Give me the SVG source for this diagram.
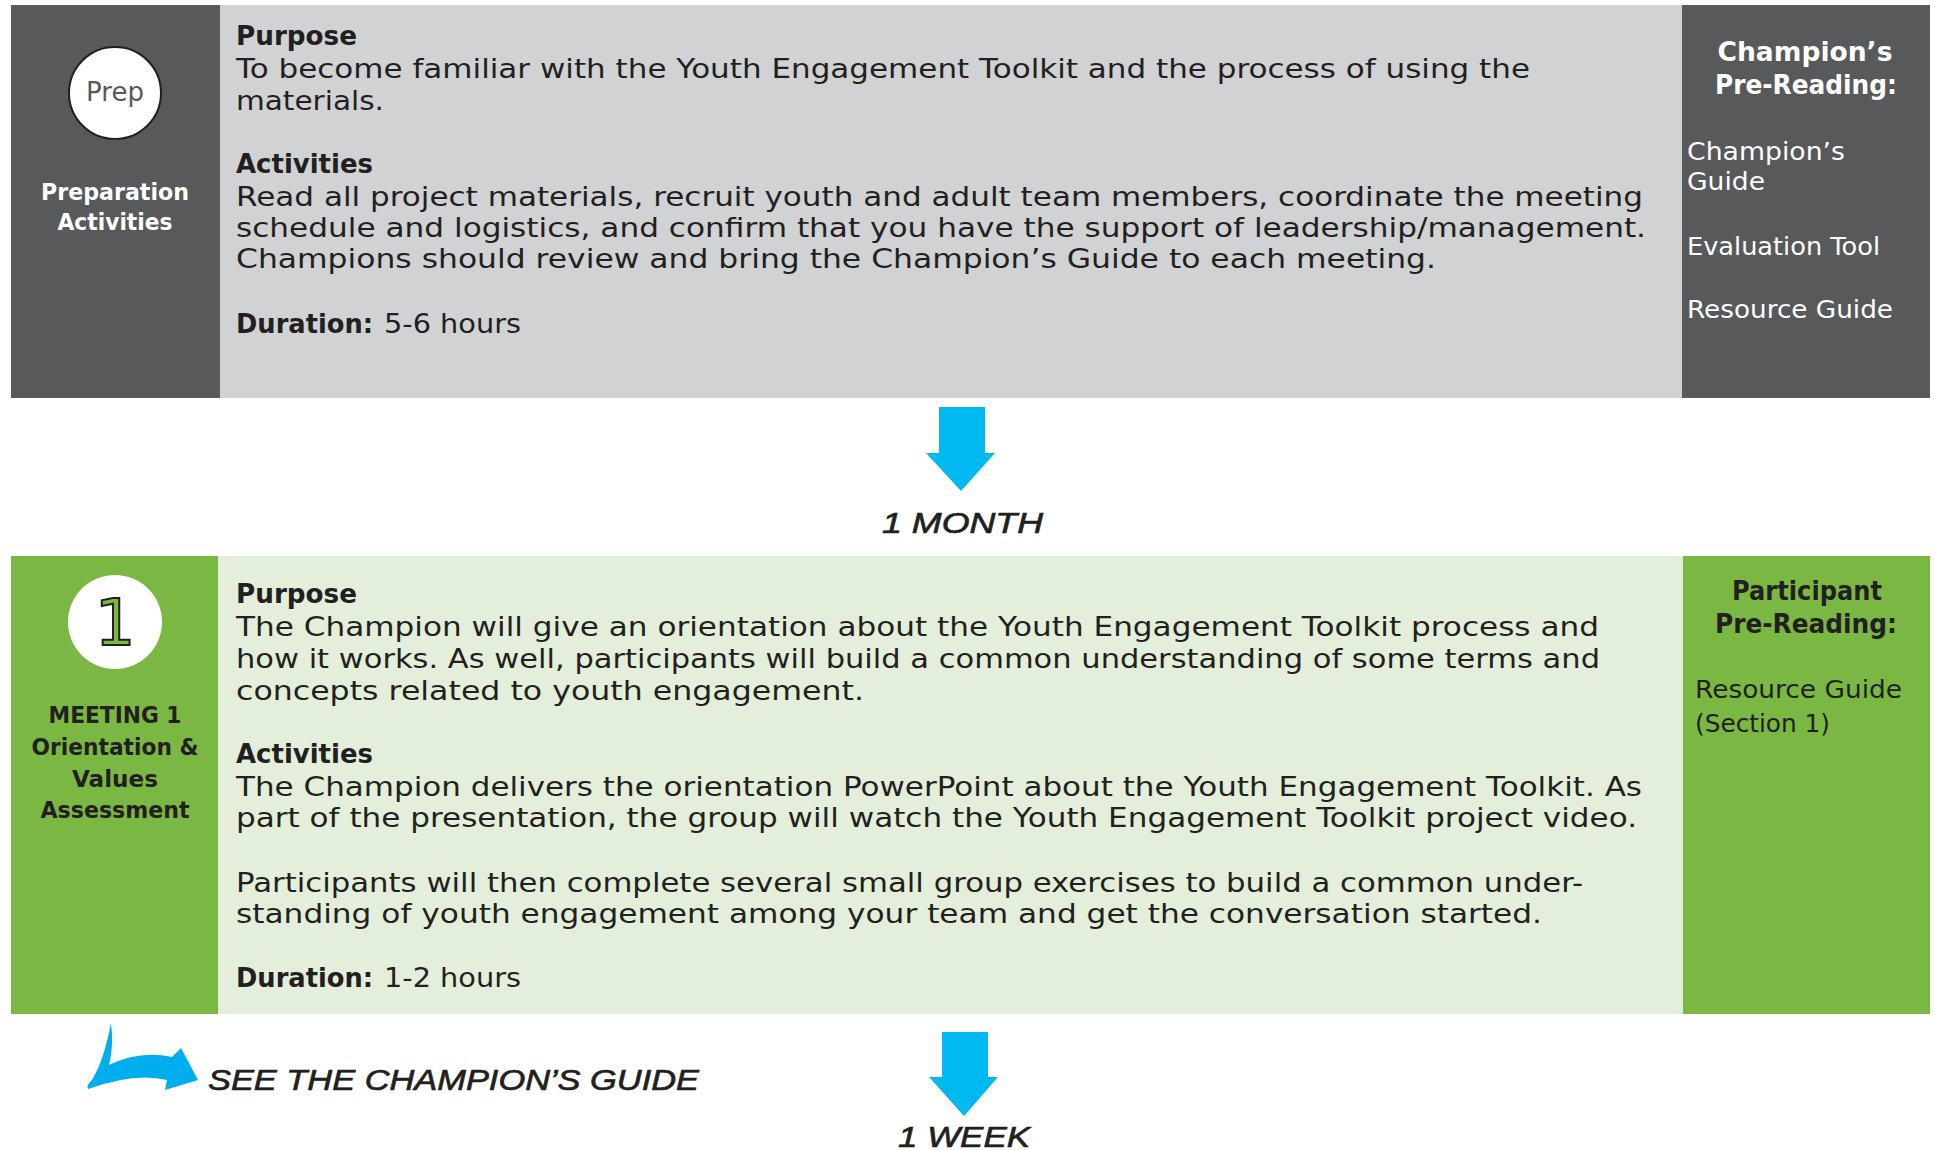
<svg xmlns="http://www.w3.org/2000/svg" width="1935" height="1150" viewBox="0 0 1935 1150">
<style>
.body{font-family:"DejaVu Sans","Liberation Sans",sans-serif;font-size:26px;fill:#231f20}
.head{font-family:"DejaVu Sans","Liberation Sans",sans-serif;font-size:26px;font-weight:bold;fill:#231f20}
.lbl{font-family:"DejaVu Sans","Liberation Sans",sans-serif;font-size:23px;font-weight:bold;text-anchor:middle}
.side{font-family:"DejaVu Sans","Liberation Sans",sans-serif;font-size:25px}
.sideh{font-family:"DejaVu Sans","Liberation Sans",sans-serif;font-size:26px;font-weight:bold;text-anchor:middle}
.hand{font-family:"Liberation Sans",sans-serif;font-style:italic;font-size:30px;fill:#231f20;stroke:#231f20;stroke-width:0.7}
.blue{fill:#00b9f1}
.white{fill:#ffffff}
.dark{fill:#231f20}
</style>
<rect width="1935" height="1150" fill="#ffffff"/>

<g id="prep">
<rect x="11" y="5" width="209" height="393" fill="#58595b"/>
<rect x="220" y="5" width="1462" height="393" fill="#d1d2d4"/>
<rect x="1682" y="5" width="248" height="393" fill="#58595b"/>
<circle cx="115" cy="93" r="46" fill="#ffffff" stroke="#231f20" stroke-width="2"/>
<text x="115" y="101" text-anchor="middle" font-family="DejaVu Sans, Liberation Sans, sans-serif" font-size="26" fill="#58595b">Prep</text>
<text class="lbl white" x="115" y="200" textLength="148" lengthAdjust="spacingAndGlyphs">Preparation</text>
<text class="lbl white" x="115" y="230" textLength="115" lengthAdjust="spacingAndGlyphs">Activities</text>
<text class="head" x="236" y="45" textLength="121" lengthAdjust="spacingAndGlyphs">Purpose</text>
<text class="body" x="236" y="78" textLength="1294" lengthAdjust="spacingAndGlyphs">To become familiar with the Youth Engagement Toolkit and the process of using the</text>
<text class="body" x="236" y="110" textLength="148" lengthAdjust="spacingAndGlyphs">materials.</text>
<text class="head" x="236" y="173" textLength="137" lengthAdjust="spacingAndGlyphs">Activities</text>
<text class="body" x="236" y="206" textLength="1407" lengthAdjust="spacingAndGlyphs">Read all project materials, recruit youth and adult team members, coordinate the meeting</text>
<text class="body" x="236" y="237" textLength="1410" lengthAdjust="spacingAndGlyphs">schedule and logistics, and confirm that you have the support of leadership/management.</text>
<text class="body" x="236" y="268" textLength="1200" lengthAdjust="spacingAndGlyphs">Champions should review and bring the Champion’s Guide to each meeting.</text>
<text class="head" x="236" y="333" textLength="137" lengthAdjust="spacingAndGlyphs">Duration:</text>
<text class="body" x="384" y="333" textLength="137" lengthAdjust="spacingAndGlyphs">5-6 hours</text>
<text class="sideh white" x="1805" y="61" textLength="175" lengthAdjust="spacingAndGlyphs">Champion’s</text>
<text class="sideh white" x="1806" y="94" textLength="182" lengthAdjust="spacingAndGlyphs">Pre-Reading:</text>
<text class="side white" x="1687" y="160" textLength="158" lengthAdjust="spacingAndGlyphs">Champion’s</text>
<text class="side white" x="1687" y="190" textLength="78" lengthAdjust="spacingAndGlyphs">Guide</text>
<text class="side white" x="1687" y="255" textLength="193" lengthAdjust="spacingAndGlyphs">Evaluation Tool</text>
<text class="side white" x="1687" y="318" textLength="206" lengthAdjust="spacingAndGlyphs">Resource Guide</text>
</g>

<g id="meeting1">
<rect x="11" y="556" width="207" height="458" fill="#7ab843"/>
<rect x="218" y="556" width="1465" height="458" fill="#e3efda"/>
<rect x="1683" y="556" width="247" height="458" fill="#7ab843"/>
<circle cx="115" cy="622" r="47" fill="#ffffff"/>
<text x="115" y="645" text-anchor="middle" font-family="DejaVu Sans, Liberation Sans, sans-serif" font-size="64" fill="#7ab843" stroke="#231f20" stroke-width="2">1</text>
<text class="lbl dark" x="115" y="723" textLength="133" lengthAdjust="spacingAndGlyphs">MEETING 1</text>
<text class="lbl dark" x="115" y="755" textLength="167" lengthAdjust="spacingAndGlyphs">Orientation &amp;</text>
<text class="lbl dark" x="115" y="787" textLength="86" lengthAdjust="spacingAndGlyphs">Values</text>
<text class="lbl dark" x="115" y="818" textLength="149" lengthAdjust="spacingAndGlyphs">Assessment</text>
<text class="head" x="236" y="603" textLength="121" lengthAdjust="spacingAndGlyphs">Purpose</text>
<text class="body" x="236" y="636" textLength="1363" lengthAdjust="spacingAndGlyphs">The Champion will give an orientation about the Youth Engagement Toolkit process and</text>
<text class="body" x="236" y="668" textLength="1364" lengthAdjust="spacingAndGlyphs">how it works. As well, participants will build a common understanding of some terms and</text>
<text class="body" x="236" y="700" textLength="628" lengthAdjust="spacingAndGlyphs">concepts related to youth engagement.</text>
<text class="head" x="236" y="763" textLength="137" lengthAdjust="spacingAndGlyphs">Activities</text>
<text class="body" x="236" y="796" textLength="1406" lengthAdjust="spacingAndGlyphs">The Champion delivers the orientation PowerPoint about the Youth Engagement Toolkit. As</text>
<text class="body" x="236" y="827" textLength="1401" lengthAdjust="spacingAndGlyphs">part of the presentation, the group will watch the Youth Engagement Toolkit project video.</text>
<text class="body" x="236" y="892" textLength="1347" lengthAdjust="spacingAndGlyphs">Participants will then complete several small group exercises to build a common under-</text>
<text class="body" x="236" y="923" textLength="1306" lengthAdjust="spacingAndGlyphs">standing of youth engagement among your team and get the conversation started.</text>
<text class="head" x="236" y="987" textLength="137" lengthAdjust="spacingAndGlyphs">Duration:</text>
<text class="body" x="384" y="987" textLength="137" lengthAdjust="spacingAndGlyphs">1-2 hours</text>
<text class="sideh dark" x="1807" y="600" textLength="150" lengthAdjust="spacingAndGlyphs">Participant</text>
<text class="sideh dark" x="1806" y="633" textLength="182" lengthAdjust="spacingAndGlyphs">Pre-Reading:</text>
<text class="side dark" x="1695" y="698" textLength="207" lengthAdjust="spacingAndGlyphs">Resource Guide</text>
<text class="side dark" x="1695" y="732" textLength="135" lengthAdjust="spacingAndGlyphs">(Section 1)</text>
</g>

<g id="connectors">
<polygon class="blue" points="939,407 985,407 985,453 995,453 961,491 926,453 939,453"/>
<text class="hand" x="882" y="533" textLength="161" lengthAdjust="spacingAndGlyphs">1 MONTH</text>
<polygon class="blue" points="942,1032 988,1032 988,1077 998,1077 964,1116 929,1077 942,1077"/>
<text class="hand" x="898" y="1147" textLength="132" lengthAdjust="spacingAndGlyphs">1 WEEK</text>
<path fill="#00aeef" d="M111,1023 Q114,1045 109,1065 Q140,1050 172,1057 L181,1048 L198,1080 L165,1090 L167,1080 Q135,1072 88,1089 Q86,1085 92,1080 Q104,1060 111,1023 Z"/>
<text class="hand" x="208" y="1090" textLength="491" lengthAdjust="spacingAndGlyphs">SEE THE CHAMPION’S GUIDE</text>
</g>
</svg>
